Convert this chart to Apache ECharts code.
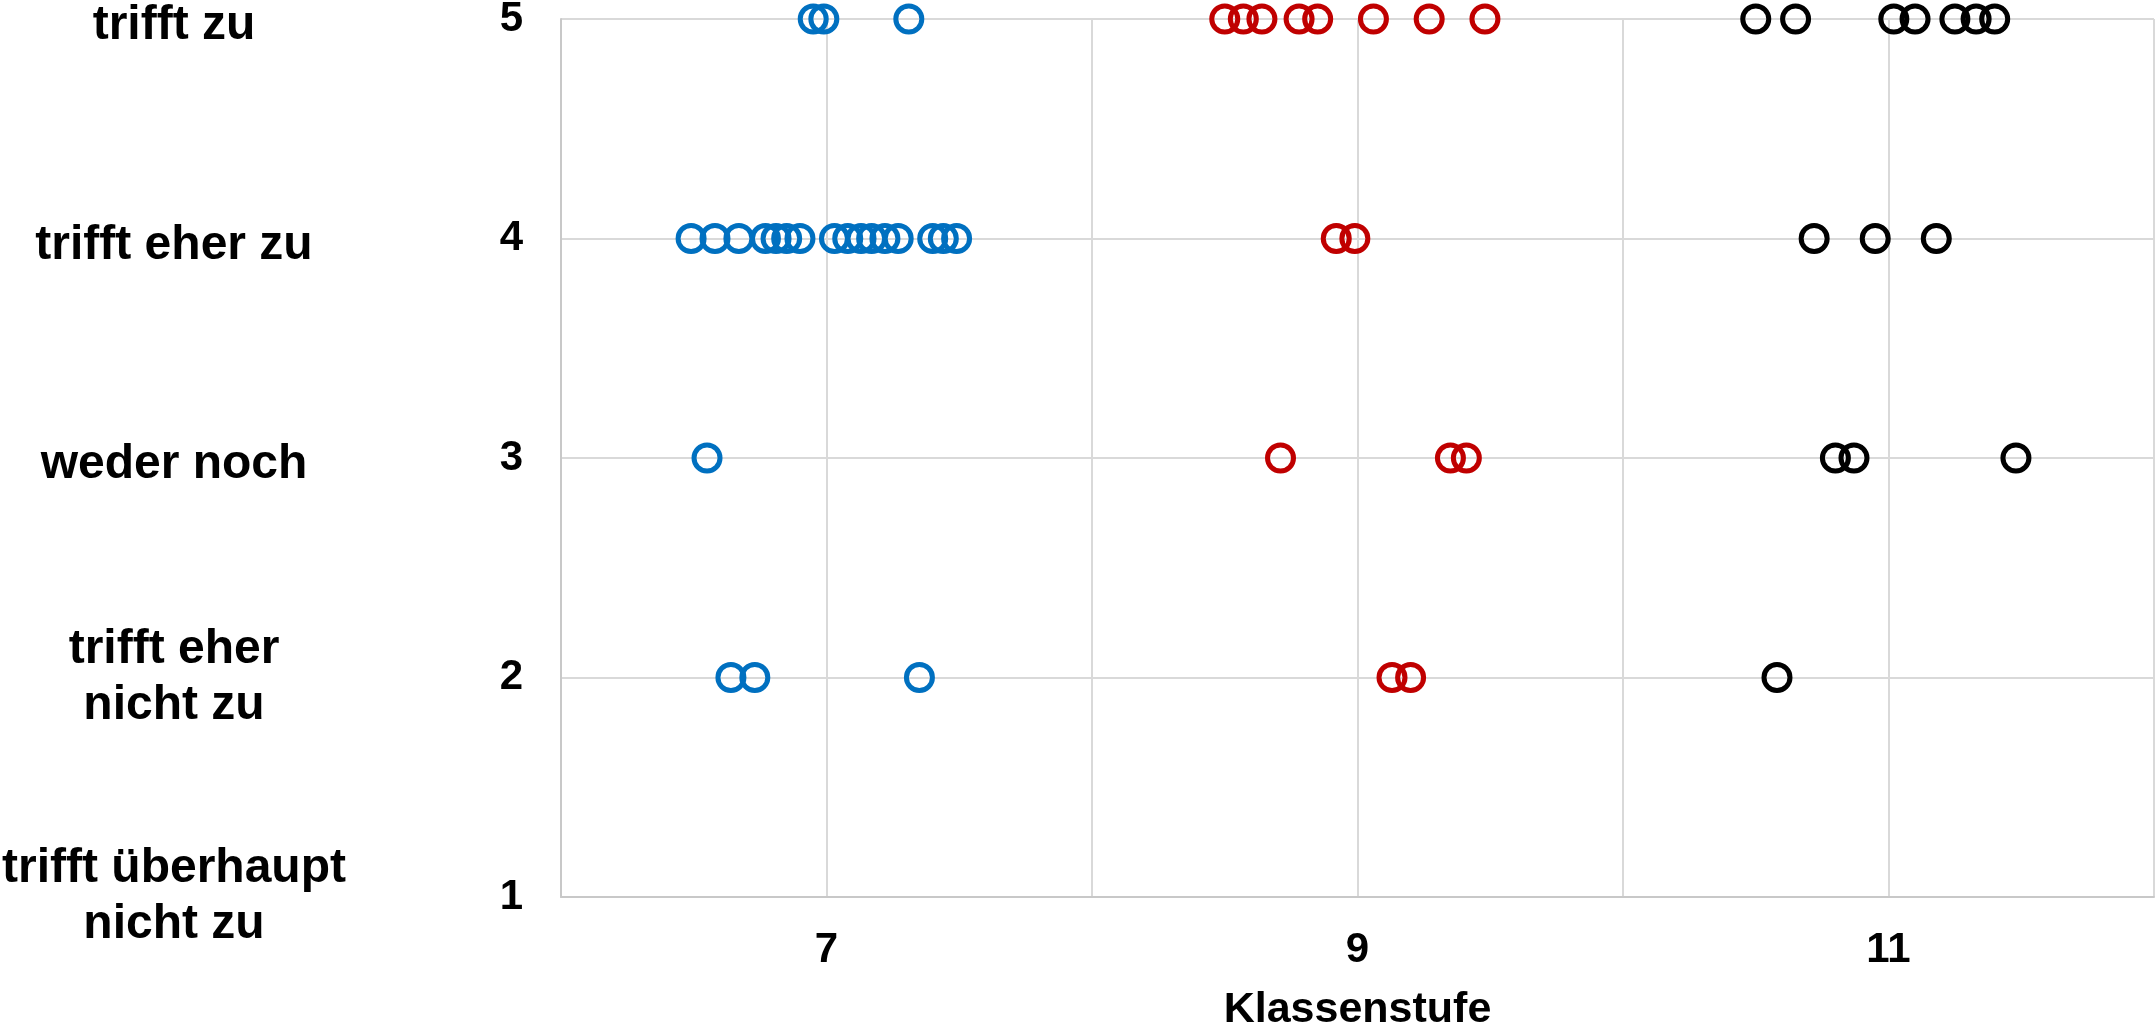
<!DOCTYPE html>
<html>
<head>
<meta charset="utf-8">
<script src="https://cdn.jsdelivr.net/npm/echarts@6/dist/echarts.min.js"></script>
<style>
  html, body { margin: 0; padding: 0; background: #fff; }
  #container { width: 2156px; height: 1030px; }
</style>
</head>
<body>
<div id="container"></div>
<script>
// Antwortstufen (y-Wert -> Beschriftung)
var yLevels = [1, 2, 3, 4, 5]
var yLevelNames = ['trifft überhaupt\nnicht zu', 'trifft eher\nnicht zu', 'weder noch', 'trifft eher zu', 'trifft zu']
// nur ungerade Klassenstufen werden beschriftet
var xTickLabels = [7, 9, 11]

// Klasse 7 (blau): [x, antwort]
var klasse7 = [
  [6.95, 5], [6.99, 5], [7.31, 5],
  [6.49, 4], [6.58, 4], [6.67, 4], [6.77, 4], [6.81, 4], [6.85, 4], [6.90, 4],
  [7.03, 4], [7.08, 4], [7.13, 4], [7.17, 4], [7.22, 4], [7.27, 4],
  [7.40, 4], [7.44, 4], [7.49, 4],
  [6.55, 3],
  [6.64, 2], [6.73, 2], [7.35, 2]
]
// Klasse 9 (rot)
var klasse9 = [
  [8.50, 5], [8.57, 5], [8.64, 5], [8.78, 5], [8.85, 5], [9.06, 5], [9.27, 5], [9.48, 5],
  [8.92, 4], [8.99, 4],
  [8.71, 3], [9.35, 3], [9.41, 3],
  [9.13, 2], [9.20, 2]
]
// Klasse 11 (schwarz)
var klasse11 = [
  [10.50, 5], [10.65, 5], [11.02, 5], [11.10, 5], [11.25, 5], [11.33, 5], [11.40, 5],
  [10.72, 4], [10.95, 4], [11.18, 4],
  [10.80, 3], [10.87, 3], [11.48, 3],
  [10.58, 2]
]

var FONT = '"Liberation Sans", Arial, sans-serif'

function ring(name, data, color) {
  return {
    name: name,
    type: 'scatter',
    data: data,
    symbol: 'circle',
    symbolSize: 26,
    itemStyle: {
      color: 'rgba(0,0,0,0)',
      borderColor: color,
      borderWidth: 5,
      opacity: 1
    }
  }
}

var chart = echarts.init(document.getElementById('container'))
chart.setOption({
  backgroundColor: '#ffffff',
  animation: false,
  grid: { left: 561, right: 2, top: 19, bottom: 133, containLabel: false, outerBoundsMode: 'none' },
  xAxis: {
    type: 'value',
    min: 6,
    max: 12,
    interval: 1,
    name: 'Klassenstufe',
    nameLocation: 'middle',
    nameGap: 92,
    nameTextStyle: { fontFamily: FONT, fontWeight: 'bold', fontSize: 43, color: '#000' },
    axisLine: { show: true, lineStyle: { color: '#c8c8c8', width: 2 } },
    axisTick: { show: false },
    splitLine: { show: true, lineStyle: { color: '#d9d9d9', width: 2 } },
    axisLabel: {
      margin: 32,
      fontFamily: FONT,
      fontWeight: 'bold',
      fontSize: 42,
      color: '#000',
      formatter: function (v) {
        return xTickLabels.indexOf(v) >= 0 ? String(v) : ''
      }
    }
  },
  yAxis: [
    {
      type: 'value',
      min: 1,
      max: 5,
      interval: 1,
      axisLine: { show: true, lineStyle: { color: '#c8c8c8', width: 2 } },
      axisTick: { show: false },
      splitLine: { show: true, lineStyle: { color: '#d9d9d9', width: 2 } },
      axisLabel: {
        margin: 38,
        fontFamily: FONT,
        fontWeight: 'bold',
        fontSize: 42,
        color: '#000'
      }
    },
    {
      // zweite Achse nur fuer die Textbeschriftung links
      type: 'value',
      position: 'left',
      min: 1,
      max: 5,
      interval: 1,
      axisLine: { show: false },
      axisTick: { show: false },
      splitLine: { show: false },
      axisLabel: {
        margin: 387,
        align: 'center',
        fontFamily: FONT,
        fontWeight: 'bold',
        fontSize: 48,
        lineHeight: 56,
        color: '#000',
        formatter: function (v) {
          var i = yLevels.indexOf(v)
          if (i < 0) return ''
          var txt = yLevelNames[i]
          // einzeilige Texte sitzen etwas tiefer als die Zahl
          return txt.indexOf('\n') < 0 ? '{s|' + txt + '}' : txt
        },
        rich: {
          s: {
            fontFamily: FONT,
            fontWeight: 'bold',
            fontSize: 48,
            lineHeight: 56,
            color: '#000',
            padding: [14, 0, 0, 0]
          }
        }
      }
    }
  ],
  series: [
    ring('Klasse 7', klasse7, '#0070c0'),
    ring('Klasse 9', klasse9, '#c00000'),
    ring('Klasse 11', klasse11, '#000000')
  ]
})
</script>
</body>
</html>
